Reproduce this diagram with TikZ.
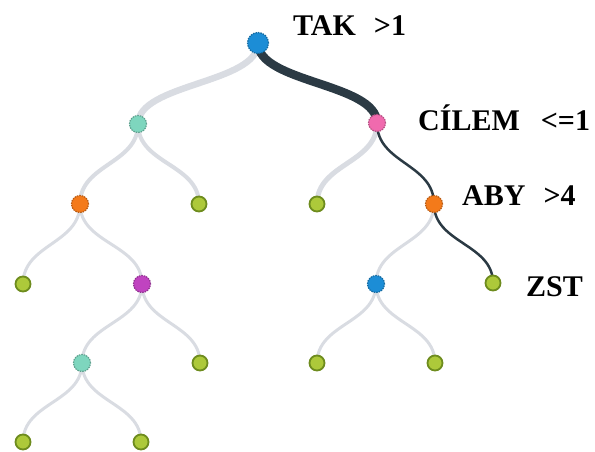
\documentclass[tikz,border=0pt]{standalone}
\usepackage{fontspec}
\setmainfont{Liberation Serif}
\usetikzlibrary{calc,backgrounds}
\definecolor{linklight}{HTML}{D9DCE2}
\definecolor{linkdark}{HTML}{2B3A44}
\definecolor{leaffill}{HTML}{ADC93A}
\definecolor{leafline}{HTML}{6E8C1E}
\definecolor{nblue}{HTML}{1C8DD6}
\definecolor{nteal}{HTML}{7ED6BE}
\definecolor{npink}{HTML}{F06AAE}
\definecolor{norange}{HTML}{F47A1A}
\definecolor{npurple}{HTML}{C043C0}
\tikzset{
  x=1pt,y=-1pt,
  leaf/.style={circle,inner sep=0pt,minimum size=15pt,fill=leaffill,draw=leafline,line width=1.8pt},
  inner/.style={circle,inner sep=0pt,minimum size=17pt,fill=#1,draw=#1!75!black,line width=1.2pt,dash pattern=on 1.5pt off 1pt},
  rootnode/.style={inner=#1,minimum size=21pt},
  light/.style={draw=linklight,line width=#1},
  dark/.style={draw=linkdark,line width=#1},
  lab/.style={anchor=west,font=\bfseries\fontsize{30}{34}\selectfont,inner sep=0pt},
}
\newcommand\treelink[3]{%
  \draw[#1] (#2.center) .. controls ($(#2.center)!0.5!(#2.center|-#3.center)$)
    and ($(#3.center)!0.5!(#3.center|-#2.center)$) .. (#3.center);}
\begin{document}
\begin{tikzpicture}
\useasboundingbox (0,0) rectangle (595,452);
% level 0
\node[rootnode=nblue] (r) at (258,43) {};
% level 1
\node[inner=nteal] (a) at (138,124) {};
\node[inner=npink] (b) at (377,123) {};
% level 2
\node[inner=norange] (aa) at (80,204) {};
\node[leaf] (ab) at (199,204) {};
\node[leaf] (ba) at (317,204) {};
\node[inner=norange] (bb) at (434,204) {};
% level 3
\node[leaf] (aaa) at (23,284) {};
\node[inner=npurple] (aab) at (142,284) {};
\node[inner=nblue] (bba) at (376,284) {};
\node[leaf] (bbb) at (493,283) {};
% level 4
\node[inner=nteal] (aaba) at (82,363) {};
\node[leaf] (aabb) at (200,363) {};
\node[leaf] (bbaa) at (317,363) {};
\node[leaf] (bbab) at (435,363) {};
% level 5
\node[leaf] (aabaa) at (23,442) {};
\node[leaf] (aabab) at (141,442) {};
% links
\begin{scope}[on background layer]
\treelink{light=6.5pt}{r}{a}
\treelink{dark=8.5pt}{r}{b}
\treelink{light=4pt}{a}{aa}
\treelink{light=4pt}{a}{ab}
\treelink{light=5pt}{b}{ba}
\treelink{dark=2.5pt}{b}{bb}
\treelink{light=3pt}{aa}{aaa}
\treelink{light=3pt}{aa}{aab}
\treelink{light=3pt}{bb}{bba}
\treelink{dark=2.5pt}{bb}{bbb}
\treelink{light=3pt}{aab}{aaba}
\treelink{light=3pt}{aab}{aabb}
\treelink{light=3pt}{bba}{bbaa}
\treelink{light=3pt}{bba}{bbab}
\treelink{light=3pt}{aaba}{aabaa}
\treelink{light=3pt}{aaba}{aabab}
\end{scope}
% labels
\node[lab] (tr) at (293,26) {TAK\hspace{0.6em}>1};
\node[lab] (tb) at (418,118) {CÍLEM\hspace{0.7em}<=1};
\node[lab] (tbb) at (462,196) {ABY\hspace{0.6em}>4};
\node[lab] (tbbb) at (526,287) {ZST};
\end{tikzpicture}
\end{document}
